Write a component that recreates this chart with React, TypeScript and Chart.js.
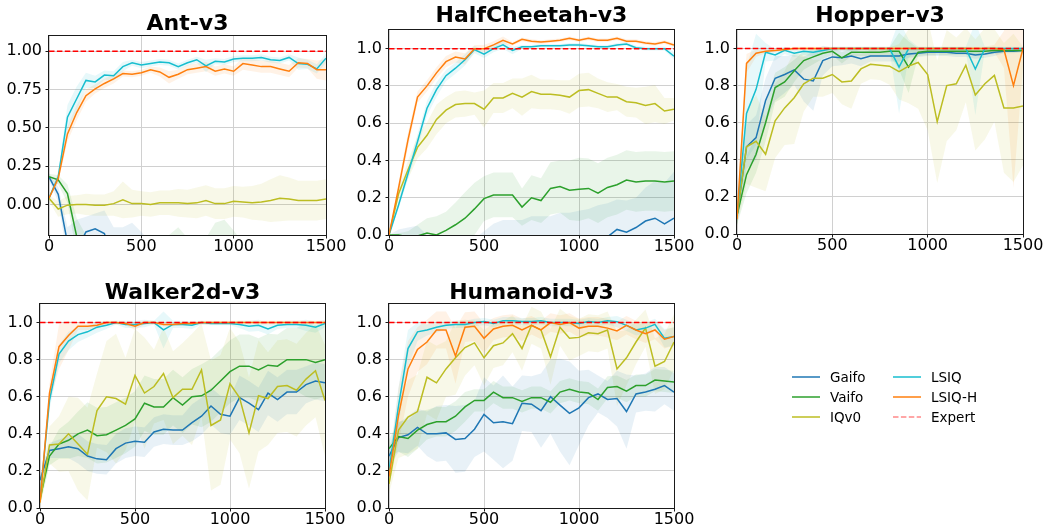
import React, { useEffect, useRef } from "react";
import { Chart, registerables } from "chart.js";

Chart.register(...registerables);

// ---------- data ----------
const steps = [0, 50, 100, 150, 200, 250, 300, 350, 400, 450, 500, 550, 600, 650, 700, 750, 800, 850, 900, 950, 1000, 1050, 1100, 1150, 1200, 1250, 1300, 1350, 1400, 1450, 1500];
const seriesNames = ["Gaifo", "Vaifo", "IQv0", "LSIQ", "LSIQ-H"];
const seriesColors = ["#1f77b4", "#2ca02c", "#bcbd22", "#17becf", "#ff7f0e"];
const xTicks = [0, 500, 1000, 1500];
const yTicksAnt = [0, 0.25, 0.5, 0.75, 1.0];
const yTicksOther = [0, 0.2, 0.4, 0.6, 0.8, 1.0];
const expertLevel = 1.0;

// Ant-v3
const antGaifo = [0.18, 0.066, -0.25, -0.3, -0.18, -0.16, -0.19, -0.4, -0.45, -0.48, -0.5, -0.5, -0.52, -0.5, -0.55, -0.5, -0.52, -0.55, -0.5, -0.52, -0.55, -0.5, -0.52, -0.5, -0.55, -0.52, -0.5, -0.55, -0.5, -0.52, -0.5];
const antGaifoStd = [0.02, 0.05, 0.1, 0.2, 0.1, 0.1, 0.15, 0.25, 0.3, 0.36, 0.32, 0.25, 0.2, 0.2, 0.2, 0.2, 0.2, 0.2, 0.2, 0.2, 0.2, 0.2, 0.2, 0.2, 0.2, 0.2, 0.2, 0.2, 0.2, 0.2, 0.2];
const antVaifo = [0.18, 0.16, 0.07, -0.21, -0.35, -0.38, -0.4, -0.42, -0.4, -0.42, -0.45, -0.45, -0.42, -0.4, -0.4, -0.42, -0.45, -0.42, -0.4, -0.4, -0.42, -0.45, -0.45, -0.42, -0.45, -0.45, -0.45, -0.45, -0.45, -0.45, -0.45];
const antVaifoStd = [0.02, 0.03, 0.06, 0.12, 0.15, 0.15, 0.15, 0.15, 0.15, 0.15, 0.15, 0.15, 0.15, 0.2, 0.25, 0.2, 0.18, 0.2, 0.28, 0.3, 0.25, 0.2, 0.25, 0.18, 0.15, 0.15, 0.15, 0.15, 0.15, 0.15, 0.15];
const antIQ = [0.04, -0.03, -0.005, 0.0, 0.0, -0.005, -0.005, 0.005, 0.03, 0.005, 0.005, 0.0, 0.01, 0.01, 0.01, 0.005, 0.01, 0.025, 0.005, 0.005, 0.02, 0.015, 0.01, 0.015, 0.025, 0.04, 0.035, 0.025, 0.025, 0.025, 0.035];
const antIQStd = [0.02, 0.05, 0.06, 0.06, 0.07, 0.07, 0.07, 0.08, 0.12, 0.09, 0.08, 0.08, 0.08, 0.08, 0.09, 0.09, 0.1, 0.1, 0.1, 0.1, 0.1, 0.1, 0.11, 0.12, 0.14, 0.15, 0.14, 0.13, 0.13, 0.13, 0.13];
const antLSIQ = [0.04, 0.18, 0.57, 0.69, 0.81, 0.8, 0.845, 0.84, 0.9, 0.925, 0.91, 0.92, 0.93, 0.925, 0.9, 0.925, 0.945, 0.905, 0.935, 0.93, 0.95, 0.955, 0.955, 0.96, 0.945, 0.94, 0.96, 0.92, 0.915, 0.885, 0.955];
const antLSIQStd = [0.01, 0.03, 0.08, 0.08, 0.05, 0.04, 0.03, 0.03, 0.03, 0.02, 0.02, 0.02, 0.02, 0.02, 0.02, 0.02, 0.02, 0.04, 0.02, 0.02, 0.02, 0.02, 0.02, 0.02, 0.02, 0.02, 0.02, 0.04, 0.03, 0.03, 0.03];
const antLSIQH = [0.04, 0.17, 0.46, 0.6, 0.71, 0.755, 0.79, 0.82, 0.855, 0.85, 0.86, 0.88, 0.865, 0.83, 0.85, 0.88, 0.89, 0.9, 0.87, 0.885, 0.87, 0.92, 0.91, 0.9, 0.9, 0.885, 0.87, 0.925, 0.92, 0.88, 0.88];
const antLSIQHStd = [0.01, 0.03, 0.05, 0.05, 0.04, 0.03, 0.03, 0.03, 0.02, 0.02, 0.02, 0.02, 0.03, 0.04, 0.03, 0.03, 0.03, 0.03, 0.03, 0.03, 0.03, 0.04, 0.04, 0.04, 0.04, 0.04, 0.04, 0.03, 0.03, 0.06, 0.07];

// HalfCheetah-v3
const hcGaifo = [0, -0.05, -0.1, -0.15, -0.2, -0.25, -0.3, -0.3, -0.3, -0.3, -0.25, -0.2, -0.2, -0.2, -0.2, -0.2, -0.18, -0.15, -0.12, -0.12, -0.1, -0.1, -0.08, -0.01, 0.03, 0.015, 0.04, 0.075, 0.09, 0.06, 0.09];
const hcGaifoStd = [0, 0.08, 0.14, 0.2, 0.2, 0.22, 0.25, 0.26, 0.27, 0.28, 0.27, 0.26, 0.28, 0.28, 0.28, 0.3, 0.28, 0.25, 0.24, 0.24, 0.23, 0.24, 0.24, 0.18, 0.16, 0.17, 0.16, 0.18, 0.2, 0.22, 0.25];
const hcVaifo = [0, 0, -0.01, -0.005, 0.01, 0.0, 0.025, 0.055, 0.09, 0.14, 0.195, 0.215, 0.215, 0.215, 0.15, 0.2, 0.185, 0.25, 0.26, 0.24, 0.245, 0.25, 0.225, 0.255, 0.27, 0.295, 0.285, 0.29, 0.29, 0.285, 0.29];
const hcVaifoStd = [0, 0.01, 0.03, 0.06, 0.08, 0.1, 0.1, 0.12, 0.14, 0.14, 0.12, 0.12, 0.12, 0.12, 0.1, 0.12, 0.12, 0.14, 0.14, 0.16, 0.17, 0.16, 0.16, 0.16, 0.16, 0.16, 0.16, 0.16, 0.16, 0.16, 0.16];
const hcIQ = [0, 0.22, 0.35, 0.47, 0.535, 0.62, 0.67, 0.7, 0.705, 0.705, 0.675, 0.735, 0.735, 0.76, 0.74, 0.77, 0.755, 0.755, 0.75, 0.74, 0.775, 0.78, 0.76, 0.74, 0.74, 0.715, 0.71, 0.695, 0.705, 0.665, 0.675];
const hcIQStd = [0, 0.03, 0.05, 0.06, 0.07, 0.08, 0.07, 0.07, 0.07, 0.06, 0.1, 0.08, 0.08, 0.08, 0.1, 0.09, 0.08, 0.08, 0.08, 0.09, 0.09, 0.09, 0.08, 0.08, 0.07, 0.08, 0.08, 0.1, 0.1, 0.07, 0.06];
const hcLSIQ = [0, 0.16, 0.33, 0.5, 0.68, 0.78, 0.855, 0.895, 0.94, 0.995, 0.97, 1.0, 1.02, 0.99, 1.01, 1.01, 1.015, 1.015, 1.015, 1.02, 1.02, 1.015, 1.01, 1.01, 1.02, 1.025, 1.005, 1.0, 1.0, 1.0, 0.96];
const hcLSIQStd = [0, 0.02, 0.03, 0.04, 0.04, 0.04, 0.03, 0.03, 0.03, 0.02, 0.02, 0.02, 0.02, 0.02, 0.01, 0.01, 0.01, 0.01, 0.01, 0.01, 0.01, 0.01, 0.01, 0.01, 0.01, 0.01, 0.01, 0.01, 0.01, 0.01, 0.02];
const hcLSIQH = [0, 0.25, 0.51, 0.74, 0.8, 0.87, 0.93, 0.955, 0.945, 1.0, 1.0, 1.02, 1.045, 1.025, 1.05, 1.04, 1.035, 1.04, 1.045, 1.055, 1.045, 1.055, 1.045, 1.045, 1.055, 1.04, 1.04, 1.03, 1.025, 1.035, 1.02];
const hcLSIQHStd = [0, 0.03, 0.04, 0.03, 0.03, 0.03, 0.03, 0.03, 0.03, 0.02, 0.02, 0.02, 0.02, 0.01, 0.01, 0.01, 0.01, 0.01, 0.01, 0.01, 0.01, 0.01, 0.01, 0.01, 0.01, 0.01, 0.01, 0.01, 0.01, 0.01, 0.01];

// Hopper-v3
const hopGaifo = [0.1, 0.47, 0.52, 0.72, 0.84, 0.86, 0.885, 0.835, 0.825, 0.935, 0.955, 0.95, 0.96, 0.945, 0.96, 0.96, 0.96, 0.96, 0.97, 0.975, 0.98, 0.98, 0.98, 0.975, 0.975, 0.965, 0.97, 0.98, 0.985, 0.985, 0.99];
const hopGaifoStd = [0.05, 0.12, 0.12, 0.12, 0.12, 0.1, 0.08, 0.12, 0.16, 0.08, 0.05, 0.04, 0.04, 0.04, 0.03, 0.03, 0.03, 0.03, 0.02, 0.02, 0.02, 0.02, 0.02, 0.02, 0.02, 0.02, 0.02, 0.02, 0.01, 0.01, 0.01];
const hopVaifo = [0.1, 0.32, 0.43, 0.6, 0.79, 0.82, 0.88, 0.935, 0.955, 0.975, 0.985, 0.95, 0.98, 0.98, 0.98, 0.98, 0.985, 0.985, 0.9, 0.98, 0.985, 0.985, 0.985, 0.985, 0.985, 0.985, 0.985, 0.99, 0.99, 0.99, 0.99];
const hopVaifoStd = [0.05, 0.1, 0.1, 0.1, 0.08, 0.08, 0.06, 0.05, 0.04, 0.03, 0.02, 0.03, 0.02, 0.02, 0.02, 0.02, 0.02, 0.1, 0.14, 0.02, 0.02, 0.02, 0.02, 0.02, 0.02, 0.02, 0.02, 0.02, 0.01, 0.01, 0.01];
const hopIQ = [0.1, 0.47, 0.5, 0.43, 0.61, 0.68, 0.735, 0.81, 0.84, 0.84, 0.86, 0.82, 0.825, 0.89, 0.915, 0.91, 0.905, 0.875, 0.905, 0.925, 0.86, 0.605, 0.8, 0.81, 0.91, 0.75, 0.81, 0.855, 0.68, 0.68, 0.69];
const hopIQStd = [0.05, 0.2, 0.25, 0.2, 0.2, 0.2, 0.25, 0.15, 0.1, 0.1, 0.1, 0.12, 0.15, 0.08, 0.08, 0.08, 0.1, 0.15, 0.2, 0.25, 0.3, 0.33, 0.3, 0.25, 0.2, 0.3, 0.3, 0.25, 0.35, 0.4, 0.32];
const hopLSIQ = [0.1, 0.65, 0.78, 0.98, 0.965, 0.99, 0.975, 0.985, 0.98, 0.99, 1.0, 1.0, 1.0, 1.0, 1.0, 1.0, 1.0, 0.9, 1.0, 1.0, 1.0, 1.0, 1.0, 1.0, 1.0, 0.89, 1.0, 1.0, 1.0, 1.0, 1.0];
const hopLSIQStd = [0.05, 0.25, 0.3, 0.05, 0.03, 0.02, 0.02, 0.02, 0.02, 0.01, 0.01, 0.01, 0.01, 0.01, 0.01, 0.01, 0.01, 0.25, 0.05, 0.01, 0.01, 0.01, 0.01, 0.01, 0.01, 0.25, 0.01, 0.01, 0.01, 0.01, 0.01];
const hopLSIQH = [0.08, 0.92, 0.975, 0.985, 0.99, 0.995, 1.0, 1.0, 1.0, 1.0, 1.0, 1.0, 1.0, 1.0, 1.0, 1.0, 1.0, 1.0, 1.0, 1.0, 1.0, 1.0, 1.0, 1.0, 1.0, 1.0, 1.0, 1.0, 0.995, 0.8, 1.0];
const hopLSIQHStd = [0.05, 0.05, 0.02, 0.01, 0.01, 0.01, 0.01, 0.01, 0.01, 0.01, 0.01, 0.01, 0.01, 0.01, 0.01, 0.01, 0.01, 0.01, 0.01, 0.01, 0.01, 0.01, 0.01, 0.01, 0.01, 0.01, 0.01, 0.02, 0.1, 0.55, 0.1];

// Walker2d-v3
const wkGaifo = [0.15, 0.31, 0.32, 0.33, 0.32, 0.28, 0.265, 0.26, 0.32, 0.35, 0.36, 0.355, 0.41, 0.425, 0.42, 0.42, 0.46, 0.495, 0.55, 0.505, 0.495, 0.595, 0.565, 0.53, 0.62, 0.585, 0.625, 0.625, 0.665, 0.685, 0.675];
const wkGaifoStd = [0.03, 0.04, 0.05, 0.06, 0.08, 0.08, 0.08, 0.08, 0.08, 0.08, 0.08, 0.08, 0.08, 0.08, 0.08, 0.08, 0.1, 0.1, 0.1, 0.1, 0.1, 0.12, 0.12, 0.12, 0.12, 0.12, 0.12, 0.12, 0.1, 0.1, 0.1];
const wkVaifo = [0.05, 0.28, 0.345, 0.365, 0.4, 0.42, 0.39, 0.395, 0.42, 0.445, 0.48, 0.565, 0.545, 0.545, 0.595, 0.555, 0.6, 0.605, 0.635, 0.685, 0.735, 0.765, 0.765, 0.745, 0.77, 0.765, 0.8, 0.8, 0.8, 0.785, 0.8];
const wkVaifoStd = [0.03, 0.05, 0.08, 0.1, 0.12, 0.15, 0.15, 0.15, 0.15, 0.15, 0.15, 0.15, 0.15, 0.15, 0.15, 0.15, 0.15, 0.17, 0.17, 0.17, 0.17, 0.17, 0.17, 0.17, 0.17, 0.17, 0.17, 0.17, 0.2, 0.2, 0.2];
const wkIQ = [0.03, 0.34, 0.345, 0.4, 0.345, 0.29, 0.525, 0.6, 0.59, 0.56, 0.715, 0.62, 0.655, 0.725, 0.595, 0.64, 0.64, 0.745, 0.445, 0.475, 0.67, 0.595, 0.405, 0.605, 0.59, 0.655, 0.66, 0.635, 0.695, 0.74, 0.58];
const wkIQStd = [0.03, 0.1, 0.15, 0.2, 0.25, 0.25, 0.2, 0.3, 0.35, 0.25, 0.25, 0.3, 0.2, 0.25, 0.25, 0.25, 0.3, 0.25, 0.35, 0.35, 0.3, 0.3, 0.3, 0.3, 0.25, 0.25, 0.25, 0.25, 0.25, 0.25, 0.3];
const wkLSIQ = [0.05, 0.58, 0.83, 0.9, 0.935, 0.95, 0.975, 0.985, 1.0, 0.99, 0.99, 0.995, 1.0, 0.96, 0.99, 0.99, 0.985, 1.0, 0.995, 0.995, 0.995, 0.99, 0.98, 0.985, 0.965, 0.985, 0.99, 0.99, 0.985, 0.975, 0.995];
const wkLSIQStd = [0.02, 0.05, 0.05, 0.05, 0.04, 0.03, 0.03, 0.02, 0.01, 0.02, 0.02, 0.02, 0.01, 0.1, 0.02, 0.02, 0.02, 0.01, 0.01, 0.01, 0.01, 0.02, 0.03, 0.03, 0.03, 0.02, 0.02, 0.02, 0.03, 0.03, 0.02];
const wkLSIQH = [0.03, 0.62, 0.87, 0.93, 0.98, 0.98, 0.985, 1.0, 1.0, 0.995, 0.98, 1.0, 1.0, 0.99, 0.99, 0.995, 0.995, 1.0, 1.0, 1.0, 1.0, 1.0, 1.0, 1.0, 1.0, 1.0, 1.0, 1.0, 1.0, 1.0, 1.0];
const wkLSIQHStd = [0.02, 0.05, 0.12, 0.08, 0.02, 0.02, 0.02, 0.01, 0.01, 0.01, 0.02, 0.01, 0.01, 0.01, 0.01, 0.01, 0.01, 0.01, 0.01, 0.01, 0.01, 0.01, 0.01, 0.01, 0.01, 0.01, 0.01, 0.01, 0.01, 0.01, 0.01];

// Humanoid-v3
const huGaifo = [0.28, 0.38, 0.395, 0.435, 0.4, 0.4, 0.405, 0.37, 0.375, 0.425, 0.505, 0.46, 0.465, 0.455, 0.565, 0.56, 0.525, 0.6, 0.555, 0.51, 0.54, 0.595, 0.615, 0.585, 0.59, 0.52, 0.615, 0.625, 0.64, 0.66, 0.625];
const huGaifoStd = [0.05, 0.08, 0.1, 0.1, 0.12, 0.15, 0.15, 0.18, 0.18, 0.15, 0.2, 0.2, 0.25, 0.2, 0.15, 0.15, 0.2, 0.2, 0.25, 0.28, 0.2, 0.15, 0.1, 0.1, 0.15, 0.2, 0.1, 0.1, 0.12, 0.1, 0.1];
const huVaifo = [0.32, 0.385, 0.375, 0.42, 0.45, 0.465, 0.465, 0.495, 0.545, 0.58, 0.58, 0.625, 0.595, 0.595, 0.575, 0.595, 0.595, 0.57, 0.625, 0.64, 0.625, 0.62, 0.585, 0.65, 0.655, 0.63, 0.66, 0.66, 0.69, 0.685, 0.68];
const huVaifoStd = [0.05, 0.08, 0.1, 0.1, 0.08, 0.08, 0.08, 0.08, 0.08, 0.06, 0.06, 0.06, 0.06, 0.06, 0.06, 0.06, 0.06, 0.06, 0.06, 0.06, 0.06, 0.06, 0.06, 0.06, 0.06, 0.06, 0.06, 0.06, 0.06, 0.06, 0.06];
const huIQ = [0.13, 0.42, 0.49, 0.52, 0.705, 0.675, 0.75, 0.81, 0.865, 0.89, 0.81, 0.875, 0.89, 0.94, 0.86, 0.985, 0.96, 0.815, 0.975, 0.915, 0.92, 0.945, 0.94, 0.96, 0.75, 0.81, 0.895, 0.97, 0.765, 0.79, 0.895];
const huIQStd = [0.05, 0.15, 0.2, 0.2, 0.2, 0.2, 0.15, 0.2, 0.15, 0.12, 0.15, 0.12, 0.12, 0.1, 0.12, 0.1, 0.1, 0.15, 0.1, 0.12, 0.1, 0.1, 0.1, 0.1, 0.2, 0.15, 0.12, 0.1, 0.15, 0.15, 0.15];
const huLSIQ = [0.2, 0.55, 0.86, 0.95, 0.96, 0.975, 0.985, 0.99, 0.99, 1.0, 1.005, 0.995, 1.01, 1.01, 1.005, 1.005, 1.01, 1.0, 1.0, 1.0, 0.995, 1.005, 1.0, 1.01, 1.005, 0.985, 0.96, 0.97, 0.99, 0.915, 0.925];
const huLSIQStd = [0.05, 0.1, 0.1, 0.05, 0.03, 0.03, 0.02, 0.02, 0.02, 0.02, 0.02, 0.02, 0.02, 0.02, 0.02, 0.02, 0.02, 0.02, 0.02, 0.02, 0.02, 0.02, 0.02, 0.02, 0.03, 0.03, 0.03, 0.03, 0.03, 0.05, 0.05];
const huLSIQH = [0.17, 0.5, 0.75, 0.855, 0.895, 0.96, 0.96, 0.82, 0.975, 0.98, 0.915, 0.965, 0.98, 0.985, 0.96, 0.985, 0.96, 1.0, 0.99, 1.0, 0.97, 0.98, 0.98, 0.97, 0.955, 0.985, 0.96, 0.94, 0.96, 0.91, 0.925];
const huLSIQHStd = [0.05, 0.15, 0.15, 0.12, 0.12, 0.1, 0.1, 0.15, 0.08, 0.08, 0.08, 0.06, 0.06, 0.06, 0.06, 0.05, 0.05, 0.05, 0.05, 0.05, 0.05, 0.05, 0.05, 0.05, 0.05, 0.05, 0.05, 0.05, 0.05, 0.05, 0.05];

// ---------- panel layout ----------
type PanelCfg = {
  title: string;
  means: number[][];
  stds: number[][];
  yMin: number;
  yMax: number;
  yTicks: number[];
  decimals: number;
  box: { L: number; R: number; T: number; B: number; tc: number };
};

const panels: PanelCfg[] = [
  {
    title: "Ant-v3",
    means: [antGaifo, antVaifo, antIQ, antLSIQ, antLSIQH],
    stds: [antGaifoStd, antVaifoStd, antIQStd, antLSIQStd, antLSIQHStd],
    yMin: -0.2, yMax: 1.1, yTicks: yTicksAnt, decimals: 2,
    box: { L: 49, R: 326, T: 36, B: 235, tc: 24.3 },
  },
  {
    title: "HalfCheetah-v3",
    means: [hcGaifo, hcVaifo, hcIQ, hcLSIQ, hcLSIQH],
    stds: [hcGaifoStd, hcVaifoStd, hcIQStd, hcLSIQStd, hcLSIQHStd],
    yMin: 0, yMax: 1.1, yTicks: yTicksOther, decimals: 1,
    box: { L: 389, R: 674, T: 30, B: 235, tc: 16.6 },
  },
  {
    title: "Hopper-v3",
    means: [hopGaifo, hopVaifo, hopIQ, hopLSIQ, hopLSIQH],
    stds: [hopGaifoStd, hopVaifoStd, hopIQStd, hopLSIQStd, hopLSIQHStd],
    yMin: 0, yMax: 1.1, yTicks: yTicksOther, decimals: 1,
    box: { L: 737, R: 1023, T: 30, B: 234, tc: 16.7 },
  },
  {
    title: "Walker2d-v3",
    means: [wkGaifo, wkVaifo, wkIQ, wkLSIQ, wkLSIQH],
    stds: [wkGaifoStd, wkVaifoStd, wkIQStd, wkLSIQStd, wkLSIQHStd],
    yMin: 0, yMax: 1.1, yTicks: yTicksOther, decimals: 1,
    box: { L: 40, R: 325, T: 304, B: 508, tc: 292.8 },
  },
  {
    title: "Humanoid-v3",
    means: [huGaifo, huVaifo, huIQ, huLSIQ, huLSIQH],
    stds: [huGaifoStd, huVaifoStd, huIQStd, huLSIQStd, huLSIQHStd],
    yMin: 0, yMax: 1.1, yTicks: yTicksOther, decimals: 1,
    box: { L: 389, R: 674, T: 304, B: 508, tc: 292.8 },
  },
];

const W = 1047;
const H = 531;
const FONT = "'DejaVu Sans', 'Liberation Sans', sans-serif";

function rgba(hex: string, a: number) {
  const n = parseInt(hex.slice(1), 16);
  return `rgba(${(n >> 16) & 255},${(n >> 8) & 255},${n & 255},${a})`;
}

const framePlugin = {
  id: "frame",
  afterDatasetsDraw(chart: any) {
    const { ctx, chartArea } = chart;
    const l = Math.round(chartArea.left) - 0.5;
    const t = Math.round(chartArea.top) - 0.5;
    const r = Math.round(chartArea.right) + 0.5;
    const b = Math.round(chartArea.bottom) + 0.5;
    ctx.save();
    ctx.strokeStyle = "#1a1a1a";
    ctx.lineWidth = 1;
    ctx.strokeRect(l, t, r - l, b - t);
    ctx.restore();
  },
};

function Panel({ cfg }: { cfg: PanelCfg }) {
  const ref = useRef<HTMLCanvasElement | null>(null);
  useEffect(() => {
    if (!ref.current) return;
    const YW = 50;
    const XH = 30;
    const titleSize = 22;
    const titleLH = 0.9;
    const { L, R, T, B, tc } = cfg.box;
    const titleH = titleSize * titleLH;
    const start = tc - titleH / 2;
    const pb = T - start - titleH;

    const datasets: any[] = [];
    datasets.push({
      label: "Expert",
      data: [{ x: 0, y: expertLevel }, { x: 1500, y: expertLevel }],
      borderColor: "#ff0000",
      borderDash: [5.5, 2.4],
      borderWidth: 1.5,
      pointRadius: 0,
      fill: false,
      order: 0,
    });
    cfg.means.forEach((m, i) => {
      datasets.push({
        label: seriesNames[i],
        data: steps.map((x, j) => ({ x, y: m[j] })),
        borderColor: seriesColors[i],
        borderWidth: 1.5,
        pointRadius: 0,
        fill: false,
        tension: 0,
        order: 10 - i,
      });
    });
    cfg.means.forEach((m, i) => {
      const s = cfg.stds[i];
      datasets.push({
        label: seriesNames[i] + " upper",
        data: steps.map((x, j) => ({ x, y: m[j] + s[j] })),
        borderColor: "transparent",
        borderWidth: 0,
        pointRadius: 0,
        fill: false,
        order: 100,
      });
      datasets.push({
        label: seriesNames[i] + " lower",
        data: steps.map((x, j) => ({ x, y: m[j] - s[j] })),
        borderColor: "transparent",
        borderWidth: 0,
        pointRadius: 0,
        fill: "-1",
        backgroundColor: rgba(seriesColors[i], 0.1),
        order: 100,
      });
    });

    const chart = new Chart(ref.current, {
      type: "line",
      data: { datasets },
      plugins: [framePlugin],
      options: {
        responsive: false,
        animation: false,
        events: [],
        layout: {
          padding: { left: L - YW, right: W - R, top: start, bottom: H - B - XH },
        },
        plugins: {
          legend: { display: false },
          tooltip: { enabled: false },
          title: {
            display: true,
            text: cfg.title,
            fullSize: false,
            color: "#000",
            font: { family: FONT, size: titleSize, weight: "bold", lineHeight: titleLH },
            padding: { top: 0, bottom: pb },
          },
        },
        scales: {
          x: {
            type: "linear",
            min: 0,
            max: 1500,
            afterBuildTicks: (s: any) => {
              s.ticks = xTicks.map((v) => ({ value: v }));
            },
            afterFit: (s: any) => {
              s.height = XH;
            },
            ticks: {
              color: "#000",
              font: { family: FONT, size: 16, lineHeight: 1.0 },
              padding: 0,
              maxRotation: 0,
              autoSkip: false,
              callback: (v: any) => String(v),
            },
            grid: {
              color: "#d0d0d0",
              lineWidth: 1,
              drawTicks: true,
              tickLength: 3.5,
              tickColor: "#1a1a1a",
              tickWidth: 1,
            },
            border: { display: false },
          },
          y: {
            type: "linear",
            min: cfg.yMin,
            max: cfg.yMax,
            afterBuildTicks: (s: any) => {
              s.ticks = cfg.yTicks.map((v) => ({ value: v }));
            },
            afterFit: (s: any) => {
              s.width = YW;
            },
            ticks: {
              color: "#000",
              font: { family: FONT, size: 16 },
              padding: 3.5,
              autoSkip: false,
              callback: (v: any) => Number(v).toFixed(cfg.decimals),
            },
            grid: {
              color: "#d0d0d0",
              lineWidth: 1,
              drawTicks: true,
              tickLength: 3.5,
              tickColor: "#1a1a1a",
              tickWidth: 1,
            },
            border: { display: false },
          },
        },
      } as any,
    });
    return () => chart.destroy();
  }, [cfg]);
  return (
    <canvas
      ref={ref}
      width={W}
      height={H}
      style={{ position: "absolute", left: 0, top: 0, width: W, height: H }}
    />
  );
}

const legendEntries = [
  { name: "Gaifo", color: seriesColors[0], dashed: false, col: 0, row: 0 },
  { name: "Vaifo", color: seriesColors[1], dashed: false, col: 0, row: 1 },
  { name: "IQv0", color: seriesColors[2], dashed: false, col: 0, row: 2 },
  { name: "LSIQ", color: seriesColors[3], dashed: false, col: 1, row: 0 },
  { name: "LSIQ-H", color: seriesColors[4], dashed: false, col: 1, row: 1 },
  { name: "Expert", color: "#ff0000", dashed: true, col: 1, row: 2 },
];

function Legend() {
  const colX = [791.5, 892.5];
  const rowY = [376.7, 396.7, 416.7];
  return (
    <>
      {legendEntries.map((e) => {
        const x = colX[e.col];
        const y = rowY[e.row];
        return (
          <React.Fragment key={e.name}>
            <svg
              width={30}
              height={6}
              style={{ position: "absolute", left: x, top: y - 3, overflow: "visible" }}
            >
              <line
                x1={0}
                y1={3}
                x2={28}
                y2={3}
                stroke={e.color}
                strokeOpacity={e.dashed ? 0.35 : 0.75}
                strokeWidth={2}
                strokeDasharray={e.dashed ? "5.5 2.4" : undefined}
              />
            </svg>
            <div
              style={{
                position: "absolute",
                left: x + 38.5,
                top: y - 10,
                height: 20,
                lineHeight: "20px",
                fontSize: 13.5,
                fontFamily: FONT,
                color: "#000",
                whiteSpace: "nowrap",
              }}
            >
              {e.name}
            </div>
          </React.Fragment>
        );
      })}
    </>
  );
}

export default function App() {
  return (
    <div
      style={{
        position: "absolute",
        left: 0,
        top: 0,
        width: W,
        height: H,
        background: "#fff",
        overflow: "hidden",
      }}
    >
      {panels.map((p) => (
        <Panel key={p.title} cfg={p} />
      ))}
      <Legend />
    </div>
  );
}
